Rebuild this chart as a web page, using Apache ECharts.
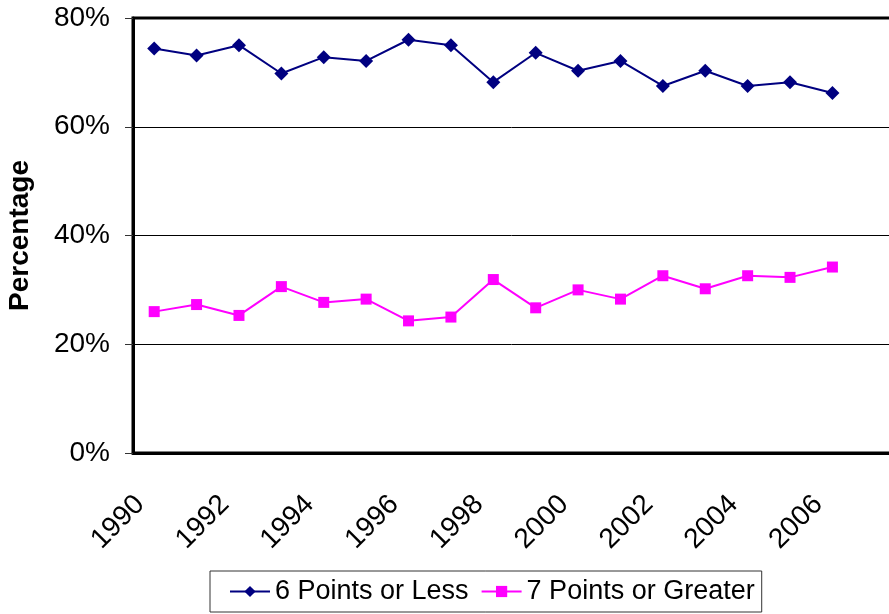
<!DOCTYPE html>
<html>
<head>
<meta charset="utf-8">
<script src="https://cdn.jsdelivr.net/npm/echarts@6/dist/echarts.min.js"></script>
<style>
  html, body { margin: 0; padding: 0; background: #fff; }
  #chart { width: 889px; height: 614px; }
</style>
</head>
<body>
<div id="chart"></div>
<script>
// 年份（最后一格为空）
var years = ["1990", "1991", "1992", "1993", "1994", "1995", "1996", "1997", "1998",
  "1999", "2000", "2001", "2002", "2003", "2004", "2005", "2006", "2007"];
// 6 分及以下
var lessSix = [74.4, 73.1, 75.0, 69.8, 72.8, 72.1, 76.0, 75.0, 68.2,
  73.6, 70.3, 72.1, 67.5, 70.3, 67.5, 68.2, 66.2, null];
// 7 分及以上
var moreSeven = [26.0, 27.3, 25.3, 30.6, 27.7, 28.3, 24.3, 25.0, 31.9,
  26.7, 30.0, 28.3, 32.6, 30.2, 32.6, 32.3, 34.2, null];
var yTicks = [0, 20, 40, 60, 80];

var chart = echarts.init(document.getElementById("chart"));
chart.setOption({
  animation: false,
  textStyle: { fontFamily: "Liberation Sans, Arial, sans-serif" },
  grid: {
    left: 133, top: 18, width: 763, height: 435,
    outerBoundsMode: "none",
    show: true, borderColor: "#000", borderWidth: 3
  },
  legend: {
    left: 210, top: 571,
    padding: [7, 7, 7, 19],
    borderColor: "#333", borderWidth: 1,
    itemWidth: 40, itemHeight: 14, itemGap: 12,
    textStyle: { fontSize: 27, color: "#000", fontFamily: "Liberation Sans, Arial, sans-serif" },
    data: ["6 Points or Less", "7 Points or Greater"]
  },
  xAxis: {
    type: "category",
    data: years,
    boundaryGap: true,
    axisLine: { lineStyle: { color: "#000", width: 3 } },
    axisTick: { interval: 0, length: 9, lineStyle: { color: "#555", width: 1 } },
    axisLabel: {
      interval: 1, rotate: 45, margin: 33, padding: [0, 20, 0, 0],
      fontSize: 28, color: "#000"
    }
  },
  yAxis: {
    type: "value",
    min: yTicks[0], max: yTicks[yTicks.length - 1], interval: 20,
    name: "Percentage",
    nameLocation: "middle", nameGap: 99, nameRotate: 90,
    nameMoveOverlap: false,
    nameTextStyle: { fontSize: 28, fontWeight: "bold", color: "#000" },
    axisLine: { show: true, lineStyle: { color: "#000", width: 3 } },
    axisTick: { show: true, length: 8, lineStyle: { color: "#333", width: 1 } },
    axisLabel: { margin: 23, fontSize: 28, color: "#000", formatter: "{value}%" },
    splitLine: { lineStyle: { color: "#000", width: 1 } }
  },
  series: [
    {
      name: "6 Points or Less",
      type: "line",
      data: lessSix,
      symbol: "diamond", symbolSize: 14,
      itemStyle: { color: "#000080" },
      lineStyle: { color: "#000080", width: 2 }
    },
    {
      name: "7 Points or Greater",
      type: "line",
      data: moreSeven,
      symbol: "rect", symbolSize: 11,
      itemStyle: { color: "#ff00ff" },
      lineStyle: { color: "#ff00ff", width: 2 }
    }
  ]
});
</script>
</body>
</html>
